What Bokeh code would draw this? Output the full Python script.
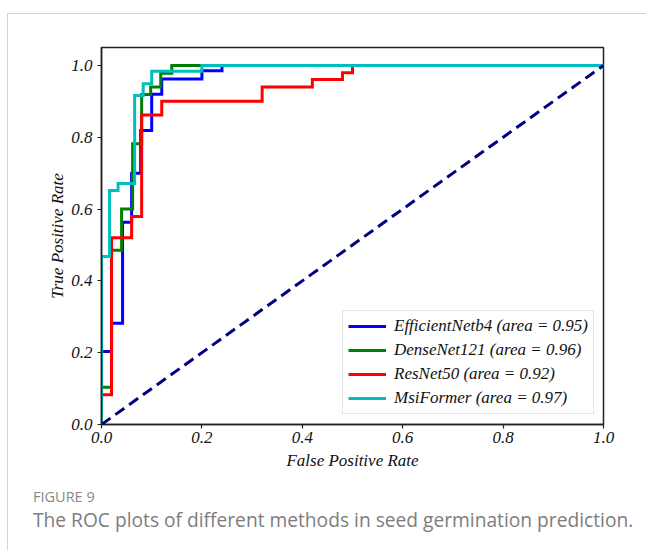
from bokeh.plotting import figure
from bokeh.layouts import column
from bokeh.models import Range1d, Legend, LegendItem, FixedTicker, Div
from bokeh.embed import file_html
from bokeh.resources import INLINE

# ---- data ----
eff_fpr = [0, 0, 0.02, 0.02, 0.042, 0.042, 0.06, 0.06, 0.078, 0.078, 0.1, 0.1, 0.12, 0.12, 0.2, 0.2, 0.24, 0.24, 1.0]
eff_tpr = [0, 0.203, 0.203, 0.282, 0.282, 0.563, 0.563, 0.70, 0.70, 0.819, 0.819, 0.92, 0.92, 0.962, 0.962, 0.985, 0.985, 1.0, 1.0]

dense_fpr = [0, 0, 0.02, 0.02, 0.04, 0.04, 0.062, 0.062, 0.08, 0.08, 0.098, 0.098, 0.118, 0.118, 0.14, 0.14, 1.0]
dense_tpr = [0, 0.104, 0.104, 0.485, 0.485, 0.60, 0.60, 0.782, 0.782, 0.919, 0.919, 0.94, 0.94, 0.978, 0.978, 1.0, 1.0]

res_fpr = [0, 0, 0.02, 0.02, 0.06, 0.06, 0.08, 0.08, 0.12, 0.12, 0.32, 0.32, 0.42, 0.42, 0.48, 0.48, 0.5, 0.5, 1.0]
res_tpr = [0, 0.083, 0.083, 0.52, 0.52, 0.579, 0.579, 0.862, 0.862, 0.90, 0.90, 0.94, 0.94, 0.961, 0.961, 0.98, 0.98, 1.0, 1.0]

msi_fpr = [0, 0, 0.016, 0.016, 0.033, 0.033, 0.066, 0.066, 0.083, 0.083, 0.1, 0.1, 0.2, 0.2, 1.0]
msi_tpr = [0, 0.468, 0.468, 0.652, 0.652, 0.671, 0.671, 0.916, 0.916, 0.949, 0.949, 0.984, 0.984, 1.0, 1.0]

chance_x = [0, 1]
chance_y = [0, 1]

series_names = ["EfficientNetb4 (area = 0.95)", "DenseNet121 (area = 0.96)",
                "ResNet50 (area = 0.92)", "MsiFormer (area = 0.97)"]
series_colors = ["#0000ff", "#008000", "#ff0000", "#00bfbf"]

tick_values = [0.0, 0.2, 0.4, 0.6, 0.8, 1.0]
tick_labels = ["0.0", "0.2", "0.4", "0.6", "0.8", "1.0"]

x_label = "False Positive Rate"
y_label = "True Positive Rate"
caption_head = "FIGURE 9"
caption_text = "The ROC plots of different methods in seed germination prediction."

# ---- main figure ----
p = figure(width=638, height=466, output_backend="svg", toolbar_location=None,
           x_range=Range1d(0, 1), y_range=Range1d(0, 1.05),
           min_border_left=93, min_border_right=43, min_border_top=33, min_border_bottom=56)
p.grid.visible = False
p.background_fill_color = "white"
p.border_fill_color = "white"
p.outline_line_color = "#222222"
p.outline_line_width = 1.5
p.outline_line_alpha = 1.0

serif = "Liberation Serif"
for ax in (p.xaxis[0], p.yaxis[0]):
    ax.ticker = FixedTicker(ticks=tick_values)
    ax.major_label_overrides = {v: s for v, s in zip(tick_values, tick_labels)}
    ax.major_label_text_font = serif
    ax.major_label_text_font_style = "italic"
    ax.major_label_text_font_size = "17px"
    ax.major_label_text_color = "#111111"
    ax.axis_label_text_font = serif
    ax.axis_label_text_font_style = "italic"
    ax.axis_label_text_font_size = "17px"
    ax.axis_label_text_color = "#111111"
    ax.minor_tick_line_color = None
    ax.major_tick_in = 0
    ax.major_tick_out = 4
    ax.major_tick_line_color = "#222222"
    ax.major_tick_line_width = 1.2
    ax.axis_line_color = "#222222"
    ax.axis_line_width = 1.5

p.xaxis[0].axis_label = x_label
p.yaxis[0].axis_label = y_label
p.xaxis[0].major_label_standoff = 3
p.xaxis[0].axis_label_standoff = 5
p.yaxis[0].major_label_standoff = 5
p.yaxis[0].axis_label_standoff = 1

all_fpr = [eff_fpr, dense_fpr, res_fpr, msi_fpr]
all_tpr = [eff_tpr, dense_tpr, res_tpr, msi_tpr]
renderers = []
for fx, ty, c in zip(all_fpr, all_tpr, series_colors):
    r = p.line(fx, ty, line_color=c, line_width=3, line_join="miter")
    renderers.append(r)

p.line(chance_x, chance_y, line_color="#000080", line_width=3, line_dash="11 6")

legend = Legend(items=[LegendItem(label=n, renderers=[r]) for n, r in zip(series_names, renderers)],
                location=(241, 10))
legend.label_text_font = serif
legend.label_text_font_style = "italic"
legend.label_text_font_size = "17px"
legend.label_text_color = "#111111"
legend.glyph_width = 38
legend.glyph_height = 20
legend.label_height = 20
legend.label_standoff = 8
legend.spacing = 4
legend.padding = 5
legend.margin = 0
legend.border_line_color = "#cccccc"
legend.border_line_width = 1
legend.background_fill_color = "white"
legend.background_fill_alpha = 1.0
p.add_layout(legend)

# ---- caption ----
cap_html = (
    '<div style="padding-left:25px;font-family:\'Open Sans\';white-space:nowrap;">'
    '<div style="font-size:14.5px;line-height:14px;margin-top:10px;color:#888888;">' + caption_head + '</div>'
    '<div style="font-size:19.2px;line-height:19px;margin-top:6px;color:#7d7d7d;">' + caption_text + '</div>'
    '</div>'
)
cap = Div(text=cap_html, width=638, height=70, margin=0)

layout = column(p, cap, margin=(13, 0, 0, 7),
                styles={"border-top": "1px solid #d4d4d4", "border-left": "1px solid #d4d4d4"})

open("out.html", "w").write(file_html(layout, INLINE))
